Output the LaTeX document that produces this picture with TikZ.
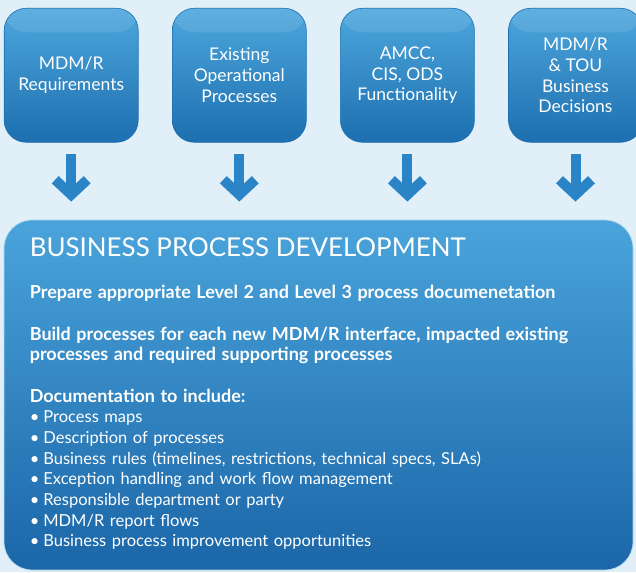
\documentclass[tikz,border=0pt]{standalone}
\usepackage{fontspec}
\setmainfont{Lato}
\usetikzlibrary{positioning, arrows.meta, calc}
\definecolor{pagebg}{HTML}{E1EFF8}
\definecolor{boxtop}{HTML}{4DA7DD}
\definecolor{boxbot}{HTML}{1D6FAF}
\definecolor{maintop}{HTML}{4AA4DB}
\definecolor{mainbot}{HTML}{1B66A8}
\definecolor{arrowblue}{HTML}{2A84C5}
\tikzset{%
	srcbox/.style={rectangle, rounded corners=22pt, minimum width=134pt, minimum height=134pt,%
		inner sep=0pt, top color=boxtop, bottom color=boxbot, draw=boxbot, line width=0.6pt,%
		text=white, align=center, font=\fontsize{17.5}{20.7}\selectfont,%
		path picture={\fill[white, opacity=0.1] (path picture bounding box.north west)%
			rectangle ([yshift=-24pt]path picture bounding box.north east);}},
	mainbox/.style={rectangle, rounded corners=28pt, minimum width=629pt, minimum height=350pt,%
		top color=maintop, bottom color=mainbot, draw=white!60!maintop, line width=0.8pt},
	feed/.style={draw=arrowblue, line width=10pt, -{Straight Barb[length=15pt, width=32pt]},%
		shorten <=11pt, shorten >=18pt},
	titletext/.style={text=white, inner sep=0pt, font=\fontsize{25.9}{30}\selectfont},
	bodytext/.style={text=white, inner sep=0pt, align=left, text width=600pt,%
		font=\fontsize{16.5}{20.67}\selectfont}
}
\newcommand{\itm}{\textbullet\hspace{4pt}}

\begin{document}
\begin{tikzpicture}
	\useasboundingbox[fill=pagebg] (0,0) rectangle (636pt,572pt);

	% input boxes
	\node[srcbox] (req) at (71.2pt,496.7pt) {MDM/R\\Requirements};
	\node[srcbox, right=33.5pt of req] (ops) {Existing\\Operational\\Processes};
	\node[srcbox, right=33.5pt of ops] (func) {AMCC,\\CIS, ODS\\Functionality};
	\node[srcbox, right=33.5pt of func] (dec) {MDM/R\\\& TOU\\Business\\Decisions};

	% development box
	\node[mainbox] (main) at (318.5pt,177pt) {};
	\node[titletext, anchor=base west] (title) at ($(main.north west)+(26pt,-36.7pt)$)
		{BUSINESS PROCESS DEVELOPMENT};
	\node[bodytext, anchor=base west] (body) at ($(main.north west)+(26pt,-79.3pt)$) {%
		{\bfseries\fontsize{18}{20.67}\selectfont
		Prepare appropriate Level 2 and Level 3 process documenetation\\[20.67pt]
		Build processes for each new MDM/R interface, impacted existing\\
		processes and required supporting processes\\[20.67pt]
		Documentation to include:}\\
		\itm Process maps\\
		\itm Description of processes\\
		\itm Business rules (timelines, restrictions, technical specs, SLAs)\\
		\itm Exception handling and work flow management\\
		\itm Responsible department or party\\
		\itm MDM/R report flows\\
		\itm Business process improvement opportunities};

	\draw[feed] (req.south) -- (req.south |- main.north);
	\draw[feed] (ops.south) -- (ops.south |- main.north);
	\draw[feed] (func.south) -- (func.south |- main.north);
	\draw[feed] (dec.south) -- (dec.south |- main.north);
\end{tikzpicture}
\end{document}
